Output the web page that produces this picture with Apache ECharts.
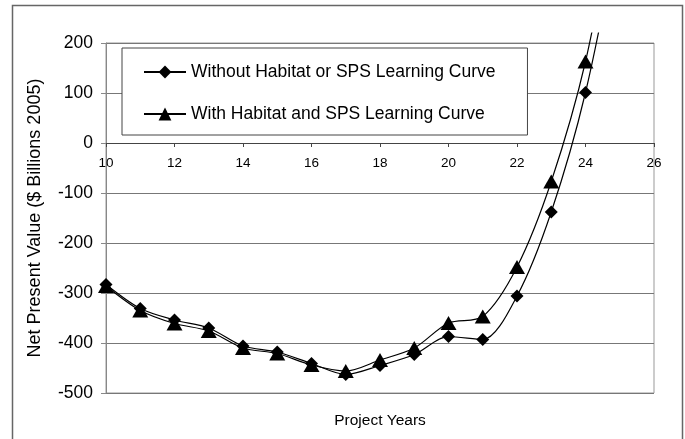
<!DOCTYPE html>
<html>
<head>
<meta charset="utf-8">
<script src="https://cdn.jsdelivr.net/npm/echarts@6/dist/echarts.min.js"></script>
<style>
  html, body { margin: 0; padding: 0; background: #fff; }
  #chart { width: 685px; height: 439px; }
</style>
</head>
<body>
<div id="chart"></div>
<script>
// Project years and NPV values ($ billions 2005)
var years = [10, 11, 12, 13, 14, 15, 16, 17, 18, 19, 20, 21, 22, 23, 24, 25];
var withoutHabitat = [-283, -331, -354, -370, -406, -418, -441, -463, -445, -423, -387, -393, -306, -138, 101, 440];
var withHabitat = [-286, -335, -361, -376, -410, -421, -444, -456, -434, -410, -360, -347, -248, -77, 163, 520];
var seriesNames = ["Without Habitat or SPS Learning Curve", "With Habitat and SPS Learning Curve"];
var yTicks = { min: -500, max: 200, step: 100 };

var font = "Liberation Sans, Arial, sans-serif";

function pairs(vals) {
    var out = [];
    for (var i = 0; i < years.length; i++) {
        out.push([years[i], vals[i]]);
    }
    return out;
}

var myChart = echarts.init(document.getElementById("chart"));

// plot is 350px tall for 700 units; the x axis sits on the 0 line
var zeroOffset = -350 * (0 - yTicks.min) / (yTicks.max - yTicks.min);

var option = {
    animation: false,
    backgroundColor: "#fff",
    textStyle: { fontFamily: font },
    graphic: [{
        type: "rect",
        shape: { x: 12.5, y: 5.5, width: 670, height: 450 },
        style: { fill: "none", stroke: "#666", lineWidth: 1.5 },
        silent: true
    }],
    grid: [
        // visible plot area
        { left: 106, right: 31, top: 43, bottom: 46, show: true, borderColor: "#999", borderWidth: 1 },
        // same scale, a bit taller, so the rising lines are cut a little above 200
        { left: 106, right: 31, top: 33, bottom: 46 }
    ],
    legend: {
        orient: "vertical",
        left: 122,
        top: 48,
        padding: [15, 32, 12, 21],
        itemGap: 24,
        itemWidth: 42,
        itemHeight: 16,
        backgroundColor: "#fff",
        borderColor: "#444",
        borderWidth: 1,
        textStyle: { fontFamily: font, fontSize: 17.5, color: "#000", lineHeight: 18 },
        data: seriesNames
    },
    xAxis: [{
        gridIndex: 0,
        type: "value",
        min: 10,
        max: 26,
        interval: 2,
        position: "bottom",
        offset: zeroOffset,
        axisLine: { onZero: false, lineStyle: { color: "#444", width: 1 } },
        axisTick: { show: true, length: 4, lineStyle: { color: "#444" } },
        axisLabel: { fontFamily: font, fontSize: 13.5, color: "#000", margin: 13 },
        splitLine: { show: false }
    }, {
        gridIndex: 1,
        type: "value",
        min: 10,
        max: 26,
        axisLine: { show: false },
        axisTick: { show: false },
        axisLabel: { show: false },
        splitLine: { show: false },
        name: "Project Years",
        nameLocation: "middle",
        nameGap: 20,
        nameTextStyle: { fontFamily: font, fontSize: 15.5, color: "#000" }
    }],
    yAxis: [{
        gridIndex: 0,
        type: "value",
        min: yTicks.min,
        max: yTicks.max,
        interval: yTicks.step,
        axisLine: { show: true, lineStyle: { color: "#888" } },
        axisTick: { show: true, length: 5, lineStyle: { color: "#888" } },
        axisLabel: { fontFamily: font, fontSize: 17.5, color: "#000", margin: 13 },
        splitLine: { show: true, lineStyle: { color: "#777", width: 1 } },
        name: "Net Present Value ($ Billions 2005)",
        nameLocation: "middle",
        nameGap: 62,
        nameTextStyle: { fontFamily: font, fontSize: 18, color: "#000" }
    }, {
        gridIndex: 1,
        type: "value",
        min: yTicks.min,
        max: yTicks.max + 20,
        show: false
    }],
    series: [{
        name: seriesNames[0],
        type: "line",
        xAxisIndex: 1,
        yAxisIndex: 1,
        smooth: 0.3,
        symbol: "diamond",
        symbolSize: 13,
        itemStyle: { color: "#000" },
        lineStyle: { color: "#000", width: 1.2 },
        data: pairs(withoutHabitat)
    }, {
        name: seriesNames[1],
        type: "line",
        xAxisIndex: 1,
        yAxisIndex: 1,
        smooth: 0.3,
        symbol: "triangle",
        symbolSize: [16, 14],
        itemStyle: { color: "#000" },
        lineStyle: { color: "#000", width: 1.2 },
        data: pairs(withHabitat)
    }]
};

myChart.setOption(option);
</script>
</body>
</html>
